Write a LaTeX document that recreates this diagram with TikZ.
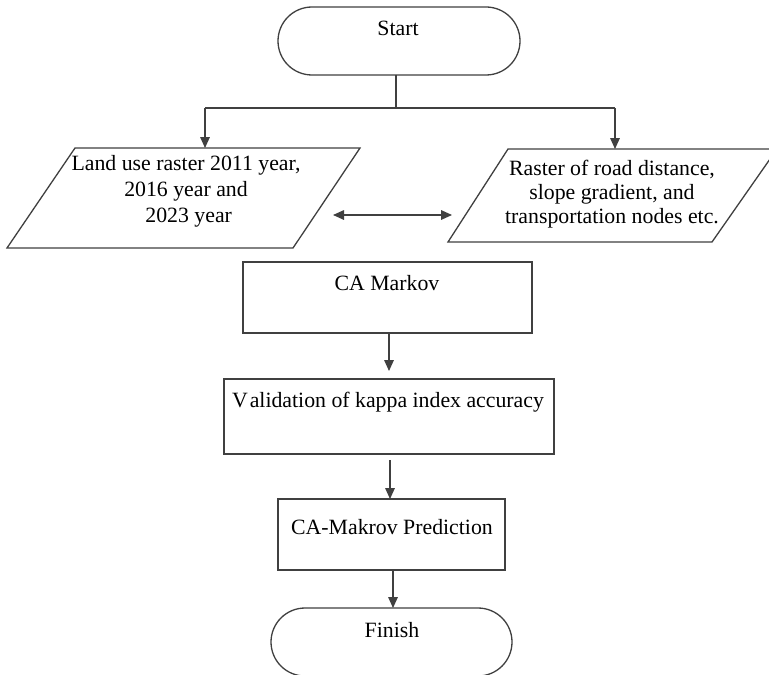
\documentclass[tikz,border=0pt]{standalone}
\usepackage{fontspec}
\setmainfont{Liberation Serif}
\usetikzlibrary{arrows.meta}
\begin{document}
\begin{tikzpicture}[x=0.5pt,y=-0.5pt,
  line/.style={draw=black!75, line width=0.65pt},
  arr/.style={line, -{Triangle[length=5.5pt,width=4.8pt]}},
  dblarr/.style={line, {Triangle[length=5.5pt,width=4.8pt]}-{Triangle[length=5.5pt,width=4.8pt]}},
  txt/.style={font=\fontsize{10.9}{13}\selectfont, align=center, inner sep=0pt, text=black},
  procbox/.style={line, rectangle, inner sep=0pt, outer sep=0pt},
  termbox/.style={line, rectangle, rounded corners=17pt, minimum width=121pt, minimum height=34pt, inner sep=0pt, outer sep=0pt}
]
\useasboundingbox (0,0) rectangle (769,674);
\clip (0,0) rectangle (769,674);
\fill[white] (0,0) rectangle (769,674);

% Start
\node[termbox] (start) at (399,41) {};
\node[txt] (starttext) at (398,28) {Start};

% split
\coordinate (j) at (396,108);
\coordinate (jl) at (205,108);
\coordinate (jr) at (615,108);
\coordinate (lptop) at (205,148);
\coordinate (rptop) at (615,149);
\draw[line] (396,75) -- (j);
\draw[line] (jl) -- (jr);
\draw[arr] (jl) -- (lptop);
\draw[arr] (jr) -- (rptop);

% parallelograms
\draw[line] (75,148) -- (360,148) -- (293,248) -- (7,248) -- cycle;
\node[txt] (lptext) at (186,191) {Land use raster 2011 year,\\2016 year and\\\ 2023 year};
\draw[line] (508,149) -- (777,149) -- (712,242) -- (448,242) -- cycle;
\node[txt, font=\fontsize{10.9}{12}\selectfont] (rptext) at (612,194) {Raster of road distance,\\slope gradient, and\\transportation nodes etc.};

\coordinate (da1) at (333,215);
\coordinate (da2) at (452,215);
\draw[dblarr] (da1) -- (da2);

% CA Markov
\node[procbox, minimum width=144.5pt, minimum height=35.5pt] (ca) at (387.5,297.5) {};
\node[txt] (catext) at (387,283) {CA Markov};

% Validation
\node[procbox, minimum width=165pt, minimum height=37.5pt] (val) at (389,416.5) {};
\node[txt] (valtext) at (388,402) {V\kern1pt alidation of kappa index accuracy};

% Prediction
\node[procbox, minimum width=113.5pt, minimum height=35.5pt] (pred) at (391.5,534.5) {};
\node[txt] (predtext) at (392,527) {CA-Makrov Prediction};

% Finish
\node[termbox, minimum width=120.5pt] (fin) at (391.5,642) {};
\node[txt] (fintext) at (392,630) {Finish};

% connectors
\draw[arr, shorten >=4pt] (ca.south -| 389,0) -- (val.north -| 389,0);
\draw[arr, shorten <=3pt] (val.south -| 390,0) -- (pred.north -| 390,0);
\draw[arr] (pred.south -| 393,0) -- (fin.north -| 393,0);
\end{tikzpicture}
\end{document}
